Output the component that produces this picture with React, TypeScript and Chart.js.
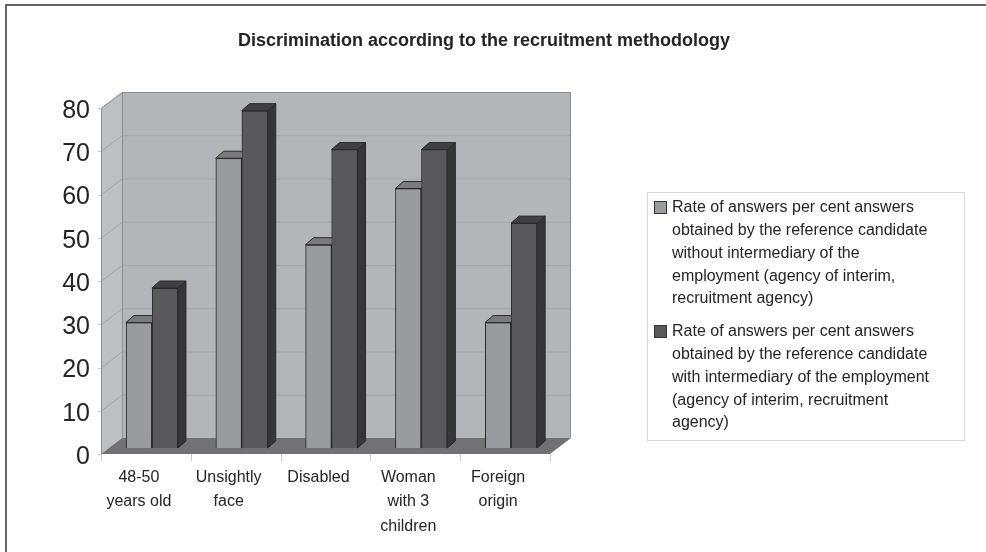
import React, { useEffect, useRef } from "react";
import { Chart, registerables } from "chart.js";

Chart.register(...registerables);

// ---------- data ----------
const categories: string[][] = [
  ["48-50", "years old"],
  ["Unsightly", "face"],
  ["Disabled"],
  ["Woman", "with 3", "children"],
  ["Foreign", "origin"],
];
const withoutIntermediary: number[] = [29, 67, 47, 60, 29];
const withIntermediary: number[] = [37, 78, 69, 69, 52];
const yMin = 0;
const yMax = 80;
const yStep = 10;
const chartTitle = "Discrimination according to the recruitment methodology";
const legendWithout: string[] = [
  "Rate of answers per cent answers",
  "obtained by the reference candidate",
  "without intermediary of the",
  "employment (agency of interim,",
  "recruitment agency)",
];
const legendWith: string[] = [
  "Rate of answers per cent answers",
  "obtained by the reference candidate",
  "with intermediary of the employment",
  "(agency of interim, recruitment",
  "agency)",
];

// ---------- styles ----------
const FONT = "'Liberation Sans', Arial, sans-serif";
const TEXT = "#242424";
const FRONT = { dx: -6, dy: 6 };
const BACK = { dx: 15, dy: -10 };
const DEPTH = { dx: 8, dy: -7 };
const faceColors = ["#9a9b9e", "#59595c"];
const sideColors = ["#6a6a6d", "#363638"];
const topColors = ["#7b7b7e", "#404042"];
const edgeColor = "#2a2a2a";

const threeD = {
  id: "threeD",
  beforeDatasetsDraw(chart: any) {
    const { ctx, chartArea: a, scales } = chart;
    const y = scales.y;
    const pb = y.getPixelForValue(yMin);
    const pt = y.getPixelForValue(yMax);
    const FL = a.left + FRONT.dx, FR = a.right + FRONT.dx, FB = pb + FRONT.dy, FT = pt + FRONT.dy;
    const BL = a.left + BACK.dx, BR = a.right + BACK.dx, BB = pb + BACK.dy, BT = pt + BACK.dy;
    ctx.save();
    // back wall
    ctx.fillStyle = "#b4b5b9";
    ctx.fillRect(BL, BT, BR - BL, BB - BT);
    // left side wall
    ctx.beginPath();
    ctx.moveTo(FL, FB);
    ctx.lineTo(FL, FT);
    ctx.lineTo(BL, BT);
    ctx.lineTo(BL, BB);
    ctx.closePath();
    ctx.fillStyle = "#bebfc3";
    ctx.fill();
    // grid lines
    ctx.lineWidth = 1;
    ctx.strokeStyle = "#a5a6aa";
    for (let v = yMin + yStep; v < yMax; v += yStep) {
      const p = y.getPixelForValue(v);
      ctx.beginPath();
      ctx.moveTo(FL, p + FRONT.dy + 0.5);
      ctx.lineTo(BL, p + BACK.dy + 0.5);
      ctx.lineTo(BR, p + BACK.dy + 0.5);
      ctx.stroke();
    }
    // wall edges
    ctx.strokeStyle = "#8d8e92";
    ctx.beginPath();
    ctx.moveTo(FL + 0.5, FB);
    ctx.lineTo(FL + 0.5, FT);
    ctx.lineTo(BL + 0.5, BT + 0.5);
    ctx.lineTo(BR - 0.5, BT + 0.5);
    ctx.lineTo(BR - 0.5, BB);
    ctx.moveTo(BL + 0.5, BT);
    ctx.lineTo(BL + 0.5, BB);
    ctx.stroke();
    // floor
    ctx.beginPath();
    ctx.moveTo(FL, FB);
    ctx.lineTo(FR, FB);
    ctx.lineTo(BR, BB);
    ctx.lineTo(BL, BB);
    ctx.closePath();
    ctx.fillStyle = "#727275";
    ctx.fill();
    // axis lines and ticks at front plane
    ctx.strokeStyle = "#c8c8c8";
    ctx.beginPath();
    ctx.moveTo(FL + 0.5, FB);
    ctx.lineTo(FL + 0.5, FB + 6);
    for (let v = yMin; v <= yMax; v += yStep) {
      const p = Math.round(y.getPixelForValue(v) + FRONT.dy) + 0.5;
      ctx.moveTo(FL - 3, p);
      ctx.lineTo(FL, p);
    }
    const n = categories.length;
    for (let i = 0; i <= n; i++) {
      const xx = Math.round(FL + ((FR - FL) * i) / n) + 0.5;
      ctx.moveTo(xx, FB);
      ctx.lineTo(xx, FB + 7);
    }
    ctx.stroke();
    ctx.restore();
  },
  afterDatasetsDraw(chart: any) {
    const { ctx } = chart;
    ctx.save();
    chart.data.datasets.forEach((_ds: any, di: number) => {
      const meta = chart.getDatasetMeta(di);
      meta.data.forEach((bar: any) => {
        // repaint the front face so that the datasets stack left to right
        bar.draw(ctx);
        const { x, y, base, width } = bar.getProps(["x", "y", "base", "width"], true);
        const l = x - width / 2;
        const r = x + width / 2;
        const t = Math.min(y, base);
        const b = Math.max(y, base);
        ctx.lineWidth = 1;
        ctx.strokeStyle = edgeColor;
        ctx.lineJoin = "round";
        // side face
        ctx.beginPath();
        ctx.moveTo(r, t);
        ctx.lineTo(r + DEPTH.dx, t + DEPTH.dy);
        ctx.lineTo(r + DEPTH.dx, b + DEPTH.dy);
        ctx.lineTo(r, b);
        ctx.closePath();
        ctx.fillStyle = sideColors[di];
        ctx.fill();
        ctx.stroke();
        // top face
        ctx.beginPath();
        ctx.moveTo(l, t);
        ctx.lineTo(l + DEPTH.dx, t + DEPTH.dy);
        ctx.lineTo(r + DEPTH.dx, t + DEPTH.dy);
        ctx.lineTo(r, t);
        ctx.closePath();
        ctx.fillStyle = topColors[di];
        ctx.fill();
        ctx.stroke();
      });
    });
    ctx.restore();
  },
  afterDraw(chart: any) {
    const { ctx } = chart;
    ctx.save();
    // outer frame
    ctx.strokeStyle = "#333";
    ctx.lineWidth = 1.5;
    ctx.beginPath();
    ctx.moveTo(6, chart.height);
    ctx.lineTo(6, 5);
    ctx.lineTo(chart.width, 5);
    ctx.stroke();
    // title
    ctx.fillStyle = TEXT;
    ctx.font = `bold 18px ${FONT}`;
    ctx.textAlign = "center";
    ctx.textBaseline = "middle";
    ctx.fillText(chartTitle, 484, 41);
    // legend
    ctx.strokeStyle = "#d6d6d6";
    ctx.lineWidth = 1;
    ctx.strokeRect(647.5, 192.5, 317, 248);
    ctx.font = `16px ${FONT}`;
    ctx.textAlign = "left";
    const items = [legendWithout, legendWith];
    const starts = [208, 332];
    items.forEach((lines, i) => {
      const y0 = starts[i];
      ctx.fillStyle = faceColors[i];
      ctx.fillRect(654.5, y0 - 6.5, 12, 12);
      ctx.strokeStyle = "#333";
      ctx.strokeRect(654.5, y0 - 6.5, 12, 12);
      ctx.fillStyle = TEXT;
      lines.forEach((ln, k) => ctx.fillText(ln, 672, y0 + k * 22.7));
    });
    ctx.restore();
  },
};

export default function App() {
  const ref = useRef<HTMLCanvasElement>(null);
  useEffect(() => {
    document.body.style.margin = "0";
    const chart = new Chart(ref.current as HTMLCanvasElement, {
      type: "bar",
      data: {
        labels: categories,
        datasets: [
          {
            label: legendWithout.join(" "),
            data: withoutIntermediary,
            backgroundColor: faceColors[0],
            borderColor: edgeColor,
            borderWidth: 1,
            categoryPercentage: 0.58,
            barPercentage: 1,
          },
          {
            label: legendWith.join(" "),
            data: withIntermediary,
            backgroundColor: faceColors[1],
            borderColor: edgeColor,
            borderWidth: 1,
            categoryPercentage: 0.58,
            barPercentage: 1,
          },
        ],
      },
      options: {
        animation: false,
        responsive: false,
        layout: { padding: { left: 47, right: 430, top: 102, bottom: 0 } },
        plugins: {
          legend: { display: false },
          title: { display: false },
          tooltip: { enabled: false },
        },
        scales: {
          x: {
            grid: { display: false, drawTicks: false },
            border: { display: false },
            ticks: {
              padding: 17,
              labelOffset: -13,
              color: TEXT,
              maxRotation: 0,
              autoSkip: false,
              font: { family: FONT, size: 16, lineHeight: "24.5px" },
            },
            afterFit: (s: any) => {
              s.height = 104;
            },
          },
          y: {
            min: yMin,
            max: yMax,
            grid: { display: false, drawTicks: false },
            border: { display: false },
            ticks: {
              stepSize: yStep,
              padding: 17,
              labelOffset: 9,
              color: TEXT,
              font: { family: FONT, size: 25 },
            },
            afterFit: (s: any) => {
              s.width = 60;
            },
          },
        },
      },
      plugins: [threeD],
    });
    return () => chart.destroy();
  }, []);
  return (
    <div style={{ width: 986, height: 552, background: "#fff" }}>
      <canvas ref={ref} width={986} height={552} style={{ display: "block" }} />
    </div>
  );
}
